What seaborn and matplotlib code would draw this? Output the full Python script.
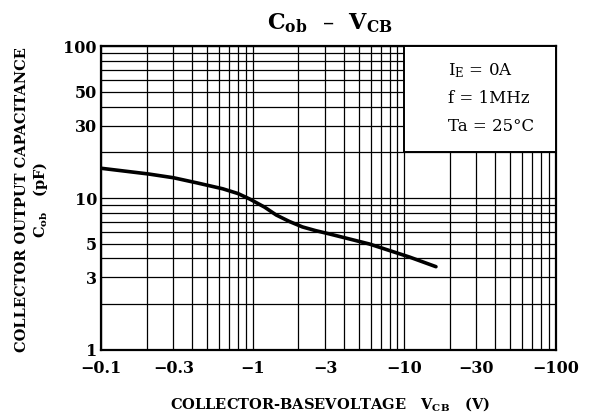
import numpy as np
import pandas as pd
import matplotlib
matplotlib.use("Agg")
import matplotlib.pyplot as plt
import seaborn as sns
from matplotlib.ticker import FixedLocator, FuncFormatter, NullFormatter
from matplotlib.patches import Rectangle

# |V_CB| (V) and C_ob (pF)
vcb = [0.1, 0.205, 0.3, 0.426, 0.635, 0.8, 0.955, 1.2, 1.43, 1.75, 2.13, 2.6, 3.21, 5.89, 10.8, 16.2]
cob = [15.7, 14.4, 13.6, 12.6, 11.5, 10.7, 9.85, 8.7, 7.73, 7.0, 6.45, 6.1, 5.8, 4.98, 4.09, 3.53]

x_major = [0.1, 0.3, 1, 3, 10, 30, 100]
y_major = [1, 3, 5, 10, 30, 50, 100]
conditions = [r"I$_\mathregular{E}$ = 0A", "f = 1MHz", "Ta = 25°C"]

df = pd.DataFrame({"vcb": vcb, "cob": cob})

sns.set_style("white")
plt.rcParams["font.family"] = ["DejaVu Serif"]
plt.rcParams["mathtext.fontset"] = "dejavuserif"
plt.rcParams["text.color"] = "black"
plt.rcParams["xtick.color"] = "black"
plt.rcParams["ytick.color"] = "black"

fig = plt.figure(figsize=(5.95, 4.16), dpi=100)
ax = fig.add_axes([0.170, 0.159, 0.764, 0.730])

sns.lineplot(data=df, x="vcb", y="cob", color="black", linewidth=2.6, ax=ax, zorder=4)

ax.set_xscale("log")
ax.set_yscale("log")
ax.set_xlim(0.1, 100)
ax.set_ylim(1, 100)

minor = [m * 10.0 ** e for e in range(-1, 2) for m in range(2, 10)]
ax.xaxis.set_major_locator(FixedLocator(x_major))
ax.xaxis.set_minor_locator(FixedLocator(minor))
ax.yaxis.set_major_locator(FixedLocator(y_major))
ax.yaxis.set_minor_locator(FixedLocator([m * 10.0 ** e for e in range(0, 2) for m in range(2, 10)]))
ax.xaxis.set_major_formatter(FuncFormatter(lambda v, p: "\u2212" + ("%g" % v)))
ax.yaxis.set_major_formatter(FuncFormatter(lambda v, p: "%g" % v))
ax.xaxis.set_minor_formatter(NullFormatter())
ax.yaxis.set_minor_formatter(NullFormatter())
ax.tick_params(which="both", length=0, labelsize=11.5, labelcolor="black")
ax.tick_params(axis="x", pad=7)
ax.tick_params(axis="y", pad=3)
for lab in ax.get_xticklabels() + ax.get_yticklabels():
    lab.set_fontweight("bold")

ax.grid(which="both", color="black", linewidth=0.9)
for s in ax.spines.values():
    s.set_color("black")
    s.set_linewidth(1.6)

# condition box
ax.add_patch(Rectangle((10, 20), 90, 80, facecolor="white", edgecolor="black",
                       linewidth=1.4, zorder=3))
for i, t in enumerate(conditions):
    ax.text(0.764, 0.92 - i * 0.092, t, transform=ax.transAxes, fontsize=12,
            ha="left", va="center", zorder=5)

ax.set_xlabel("")
ax.set_ylabel("")
fig.text(0.555, 0.945, r"C$_\mathregular{ob}$  –  V$_\mathregular{CB}$", ha="center",
         va="center", fontsize=16, fontweight="bold")
fig.text(0.555, 0.028, r"COLLECTOR-BASEVOLTAGE   V$_\mathregular{CB}$   (V)", ha="center",
         va="center", fontsize=10.5, fontweight="bold")
fig.text(0.037, 0.52, "COLLECTOR OUTPUT CAPACITANCE", rotation=90, ha="center",
         va="center", fontsize=10.5, fontweight="bold")
fig.text(0.068, 0.52, r"C$_\mathregular{ob}$   (pF)", rotation=90, ha="center",
         va="center", fontsize=10.5, fontweight="bold")

fig.savefig("out.png", dpi=100)
